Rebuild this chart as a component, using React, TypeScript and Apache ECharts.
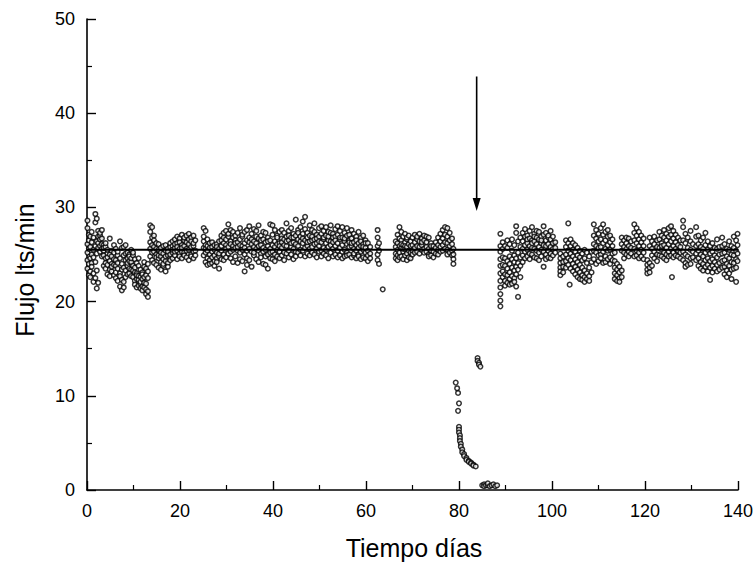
import React, { useEffect, useRef } from "react";
import * as echarts from "echarts";

// Flow (lts/min) readings grouped by day: [day, flows[]]
const startPeriod: [number, number[]][] = [
  [0.1, [25.2, 27.8, 23.5, 26.1, 24.4, 28.6]],
  [0.4, [24.0, 26.5, 22.8, 25.6, 27.1]],
  [0.7, [25.8, 23.2, 24.6, 26.9, 22.6]],
  [1.0, [26.3, 24.1, 25.0, 27.4, 23.7]],
  [1.4, [25.5, 23.0, 26.8, 24.7, 22.1]],
  [1.8, [29.3, 28.4, 24.2, 22.5, 25.9]],
  [2.1, [28.8, 21.4, 23.3, 26.4, 25.1]],
  [2.4, [27.5, 26.2, 25.7, 22.0, 26.9]],
  [2.8, [27.0, 25.9, 26.6, 25.3, 27.3]],
  [3.2, [26.1, 27.6, 25.6, 24.8, 26.7]],
  [3.6, [25.4, 26.0, 24.9, 23.8, 25.7]],
  [4.0, [24.6, 25.8, 23.5, 26.2, 24.1]],
  [4.4, [25.1, 23.9, 24.7, 22.9, 25.5]],
  [4.9, [26.7, 24.3, 23.4, 25.0, 22.7]],
  [5.3, [24.8, 23.2, 25.4, 24.0, 23.7]],
  [5.8, [23.9, 25.2, 22.8, 24.5, 26.0]],
  [6.2, [24.4, 23.1, 25.6, 22.5, 23.8]],
  [6.6, [23.5, 24.9, 22.2, 25.3, 24.1]],
  [7.1, [26.4, 23.0, 21.6, 24.6, 22.7]],
  [7.5, [25.7, 22.3, 21.2, 24.0, 23.4]],
  [7.9, [24.9, 23.6, 22.1, 25.8, 21.5]],
  [8.3, [26.0, 23.3, 22.6, 24.4, 25.1]],
  [8.7, [24.6, 23.8, 25.2, 22.9, 24.1]],
  [9.1, [25.0, 23.5, 24.3, 23.0, 24.8]],
  [9.5, [24.2, 25.5, 23.4, 22.7, 24.6]],
  [9.9, [23.8, 24.9, 22.6, 23.3, 25.2]],
  [10.3, [24.5, 22.2, 23.6, 21.8, 23.1]],
  [10.7, [23.0, 22.4, 24.1, 21.5, 22.8]],
  [11.1, [22.7, 23.8, 21.7, 22.3, 24.6]],
  [11.5, [21.9, 22.6, 23.4, 21.4, 22.1]],
  [11.9, [22.4, 21.6, 23.1, 22.9, 21.2]],
  [12.3, [23.7, 22.0, 21.5, 24.2, 22.6]],
  [12.7, [22.8, 21.3, 20.8, 23.5, 21.9]],
  [13.1, [24.0, 22.5, 21.1, 20.5, 23.2]],
];

const earlyPeriod: [number, number[]][] = [
  [13.6, [28.1, 27.4, 26.3, 25.6, 24.8]],
  [14.0, [27.9, 26.8, 25.2, 24.4, 26.0]],
  [14.4, [27.0, 25.8, 24.1, 25.3, 26.5]],
  [14.9, [26.2, 25.0, 24.7, 23.9, 25.6]],
  [15.4, [25.5, 24.6, 26.1, 23.6, 24.9]],
  [15.9, [24.8, 25.7, 24.2, 23.4, 25.2]],
  [16.4, [25.9, 24.5, 23.8, 25.1, 24.0]],
  [16.9, [24.3, 25.4, 23.2, 24.8, 26.0]],
  [17.4, [25.6, 24.1, 24.9, 23.7, 25.3]],
  [17.9, [24.7, 25.8, 24.4, 26.2, 25.0]],
  [18.4, [26.4, 25.2, 24.6, 25.9, 25.5]],
  [18.9, [25.7, 26.6, 24.9, 25.3, 26.1]],
  [19.4, [26.9, 25.4, 24.5, 26.2, 25.8]],
  [19.9, [25.1, 26.7, 25.6, 24.8, 26.3]],
  [20.4, [27.1, 26.0, 25.3, 24.6, 25.7]],
  [20.9, [26.5, 25.2, 26.8, 25.9, 24.9]],
  [21.4, [25.6, 26.3, 27.0, 24.7, 25.4]],
  [21.9, [27.2, 26.1, 25.5, 24.4, 26.6]],
  [22.4, [26.8, 25.8, 25.0, 26.4, 24.8]],
  [22.9, [25.9, 27.0, 26.2, 25.3, 24.6]],
  [23.3, [26.5, 25.4, 24.9]],
];

const midPeriod: [number, number[]][] = [
  [25.1, [27.8, 26.4, 25.7, 24.9, 26.9]],
  [25.5, [27.5, 26.0, 25.2, 24.2, 25.6]],
  [25.9, [26.6, 25.4, 24.6, 23.9, 25.9]],
  [26.4, [26.2, 25.0, 24.4, 25.7, 24.0]],
  [26.9, [25.8, 24.7, 25.3, 24.1, 26.3]],
  [27.4, [25.5, 24.3, 26.0, 23.8, 24.9]],
  [27.9, [26.1, 25.2, 24.6, 25.8, 24.2]],
  [28.4, [25.6, 24.8, 26.4, 23.5, 25.1]],
  [28.9, [26.5, 25.4, 27.0, 24.5, 25.9]],
  [29.4, [27.3, 26.2, 25.0, 24.4, 26.8]],
  [29.9, [26.0, 27.5, 25.6, 24.7, 26.6]],
  [30.4, [28.2, 26.9, 25.8, 25.1, 27.2]],
  [30.9, [27.6, 26.4, 25.3, 24.6, 26.1]],
  [31.4, [26.8, 27.4, 25.9, 24.2, 25.5]],
  [31.9, [27.0, 25.7, 26.5, 24.8, 26.2]],
  [32.4, [26.3, 27.3, 25.4, 24.1, 25.8]],
  [32.9, [27.8, 26.6, 25.2, 24.5, 26.0]],
  [33.4, [26.9, 25.9, 27.1, 24.3, 25.5]],
  [33.9, [27.4, 26.2, 25.0, 23.2, 25.7]],
  [34.4, [26.5, 27.6, 25.4, 24.6, 23.9]],
  [34.9, [28.0, 26.8, 25.6, 24.4, 26.3]],
  [35.4, [27.2, 26.1, 25.3, 23.7, 26.6]],
  [35.9, [27.7, 26.4, 25.8, 24.9, 25.2]],
  [36.4, [26.9, 27.5, 25.6, 24.5, 26.2]],
  [36.9, [28.1, 26.7, 25.4, 24.2, 25.9]],
  [37.4, [27.0, 26.0, 25.1, 24.7, 26.5]],
  [37.9, [26.6, 27.4, 25.7, 24.0, 25.3]],
  [38.4, [27.3, 26.3, 25.5, 23.9, 24.8]],
  [38.9, [26.8, 25.9, 25.0, 23.5, 26.4]],
  [39.4, [28.2, 26.5, 25.6, 24.6, 25.2]],
  [39.9, [28.1, 27.1, 26.0, 25.3, 24.5]],
  [40.4, [27.6, 26.4, 25.8, 25.0, 24.3]],
  [40.9, [27.0, 26.8, 25.5, 24.8, 26.1]],
  [41.4, [27.4, 26.2, 25.3, 24.6, 25.9]],
  [41.9, [26.7, 27.6, 25.7, 24.9, 26.3]],
  [42.4, [27.3, 26.0, 25.2, 24.4, 26.6]],
  [42.9, [28.3, 26.9, 25.9, 25.1, 26.4]],
  [43.4, [27.5, 26.5, 25.4, 24.7, 27.0]],
  [43.9, [26.8, 27.8, 25.8, 25.0, 26.2]],
  [44.4, [27.2, 26.3, 25.6, 24.5, 26.8]],
  [44.9, [28.7, 27.0, 26.1, 25.3, 24.8]],
  [45.4, [27.6, 26.6, 25.9, 25.2, 27.3]],
  [45.9, [27.9, 26.4, 25.5, 24.9, 26.9]],
  [46.4, [28.5, 27.2, 26.2, 25.4, 26.7]],
  [46.9, [29.0, 27.7, 26.5, 25.7, 24.8]],
  [47.4, [27.3, 26.8, 25.9, 25.1, 26.3]],
  [47.9, [28.1, 27.0, 26.4, 25.6, 24.9]],
  [48.4, [27.6, 26.5, 25.8, 25.2, 26.9]],
  [48.9, [28.3, 27.4, 26.1, 25.0, 26.6]],
  [49.4, [27.1, 26.7, 25.6, 24.7, 26.2]],
  [49.9, [27.8, 26.9, 25.9, 25.3, 26.4]],
  [50.4, [28.0, 27.2, 26.3, 25.4, 24.8]],
  [50.9, [27.5, 26.6, 25.7, 25.1, 26.8]],
  [51.4, [27.9, 27.0, 26.2, 25.5, 24.9]],
  [51.9, [27.4, 26.5, 25.8, 24.6, 26.9]],
  [52.4, [28.1, 27.3, 26.4, 25.2, 26.0]],
  [52.9, [27.2, 26.8, 25.6, 24.8, 26.3]],
  [53.4, [27.7, 26.9, 25.9, 25.0, 26.5]],
  [53.9, [28.0, 27.1, 26.2, 25.4, 24.7]],
  [54.4, [27.5, 26.6, 25.7, 24.9, 26.8]],
  [54.9, [27.9, 26.8, 26.0, 25.3, 24.6]],
  [55.4, [27.3, 26.4, 25.5, 24.8, 26.7]],
  [55.9, [27.8, 27.0, 26.1, 25.2, 24.9]],
  [56.4, [27.1, 26.5, 25.8, 25.0, 26.3]],
  [56.9, [27.6, 26.7, 25.9, 24.7, 26.2]],
  [57.4, [27.2, 26.3, 25.6, 24.9, 25.1]],
  [57.9, [26.9, 26.0, 25.4, 24.6, 26.5]],
  [58.4, [27.4, 26.2, 25.7, 25.0, 24.8]],
  [58.9, [26.8, 25.9, 25.3, 24.5, 26.4]],
  [59.4, [27.0, 26.1, 25.5, 24.7, 25.8]],
  [59.9, [26.5, 25.7, 25.2, 24.6, 26.2]],
  [60.4, [26.2, 25.4, 24.9, 24.3]],
  [60.9, [25.8, 25.1, 24.6]],
  [62.5, [27.6, 26.8, 25.9, 25.0, 24.4]],
  [62.8, [26.2, 25.4, 24.0]],
  [63.6, [21.3]],
];

const latePeriod: [number, number[]][] = [
  [66.4, [26.4, 25.8, 25.1, 24.6]],
  [66.8, [27.1, 26.2, 25.5, 24.9, 24.4]],
  [67.2, [27.9, 26.7, 25.9, 25.2, 24.7]],
  [67.6, [27.4, 26.5, 25.7, 24.8, 26.1]],
  [68.0, [26.9, 26.0, 25.3, 24.5, 25.6]],
  [68.4, [27.2, 26.3, 25.6, 24.9, 25.9]],
  [68.8, [26.6, 25.8, 25.1, 24.4, 26.8]],
  [69.2, [27.0, 26.1, 25.4, 24.7]],
  [69.6, [26.4, 25.9, 25.2, 24.6]],
  [70.0, [26.8, 26.0, 25.4, 25.0]],
  [70.5, [27.1, 26.3, 25.7, 25.2]],
  [71.0, [26.6, 25.9, 25.3, 26.9]],
  [71.5, [27.2, 26.4, 25.8, 25.1]],
  [72.0, [26.7, 26.0, 25.5, 26.3]],
  [72.5, [27.0, 26.5, 25.6, 25.2]],
  [73.0, [26.3, 25.8, 25.3, 26.9]],
  [73.5, [26.8, 25.6, 25.0, 24.8]],
  [74.0, [26.2, 25.4, 24.9, 25.9]],
  [74.5, [25.9, 25.3, 24.7]],
  [75.0, [26.3, 25.7, 25.1]],
  [75.5, [26.8, 26.0, 25.5, 25.0]],
  [76.0, [27.2, 26.4, 25.8, 25.3]],
  [76.5, [27.6, 26.7, 26.0, 25.4]],
  [77.0, [27.9, 27.1, 26.3, 25.6]],
  [77.5, [27.8, 26.9, 26.2, 25.5, 25.0]],
  [78.0, [27.3, 26.5, 25.9, 25.2]],
  [78.5, [26.7, 26.1, 25.4, 24.9]],
  [78.8, [25.6, 25.0, 24.5, 24.0]],
];

// Interruption of flow around day 80-89
const interruption: [number, number[]][] = [
  [79.3, [11.4]],
  [79.6, [10.8]],
  [79.8, [10.3, 8.4]],
  [80.0, [9.2, 6.7, 6.4, 6.1]],
  [80.2, [5.8, 5.5, 5.2]],
  [80.4, [4.9, 4.6]],
  [80.7, [4.3, 4.0]],
  [81.1, [3.8, 3.6]],
  [81.6, [3.4, 3.2]],
  [82.1, [3.1, 3.0]],
  [82.6, [2.9, 2.8]],
  [83.1, [2.7, 2.6]],
  [83.6, [2.5]],
  [84.0, [14.0, 13.7]],
  [84.3, [13.5, 13.3]],
  [84.6, [13.1]],
  [85.0, [0.5]],
  [85.4, [0.6, 0.4]],
  [85.8, [0.5]],
  [86.2, [0.5, 0.7]],
  [86.6, [0.4]],
  [87.0, [0.5]],
  [87.4, [0.6]],
  [87.8, [0.4]],
  [88.2, [0.5]],
];

const finalPeriod: [number, number[]][] = [
  [88.9, [27.2, 25.9, 25.3, 24.5, 23.8, 23.0, 22.2, 21.5, 20.8, 20.1, 19.5]],
  [89.4, [26.3, 25.6, 24.7, 23.9, 23.2, 22.6]],
  [89.9, [25.9, 24.6, 23.8, 22.9, 22.2, 21.7]],
  [90.4, [26.5, 25.7, 24.3, 23.5, 22.8, 22.0]],
  [90.9, [26.1, 24.8, 24.0, 23.1, 22.4, 21.8]],
  [91.4, [26.6, 25.4, 24.5, 23.6, 22.7, 21.9]],
  [91.9, [26.0, 24.9, 24.2, 23.3, 22.5, 22.1]],
  [92.3, [28.0, 27.3, 24.6, 23.7, 22.9, 21.6]],
  [92.7, [26.4, 25.2, 24.1, 23.4, 20.5]],
  [93.2, [26.8, 25.8, 24.7, 23.8, 22.6]],
  [93.7, [27.3, 26.4, 25.6, 24.9, 24.2]],
  [94.2, [27.7, 26.9, 26.0, 25.3, 24.6]],
  [94.7, [27.0, 26.2, 25.5, 24.8, 26.6]],
  [95.2, [27.5, 26.7, 25.9, 25.1, 24.5]],
  [95.7, [27.9, 26.5, 25.7, 25.0, 26.2]],
  [96.2, [27.2, 26.4, 25.6, 24.7, 26.9]],
  [96.7, [26.8, 26.1, 25.4, 24.6, 27.5]],
  [97.2, [27.4, 26.6, 25.8, 25.2, 24.4]],
  [97.7, [26.9, 26.2, 25.5, 24.8, 26.5]],
  [98.2, [28.0, 27.1, 26.0, 25.3, 23.7]],
  [98.7, [27.3, 26.5, 25.9, 25.0, 24.5]],
  [99.2, [26.8, 26.1, 25.4, 24.7, 27.0]],
  [99.7, [27.5, 26.6, 25.8, 25.1, 24.6]],
  [100.2, [26.9, 26.2, 25.6, 24.9]],
  [100.7, [26.3, 25.7, 25.2]],
  [101.8, [25.1, 24.6, 24.1, 23.6, 23.2, 22.8]],
  [102.4, [24.8, 24.2, 23.7, 23.1]],
  [103.0, [26.5, 25.8, 25.0, 24.3, 23.6]],
  [103.5, [28.3, 26.2, 25.4, 24.6, 23.9]],
  [103.8, [21.8]],
  [104.0, [26.6, 25.9, 25.1, 24.4, 23.5]],
  [104.5, [26.2, 25.5, 24.8, 24.0, 23.2]],
  [105.0, [26.0, 25.3, 24.5, 23.7, 22.9]],
  [105.5, [25.7, 24.9, 24.2, 23.4, 22.6]],
  [106.0, [25.4, 24.7, 23.9, 23.1, 22.4]],
  [106.5, [25.1, 24.4, 23.6, 22.8, 22.3]],
  [107.0, [25.5, 24.6, 23.3, 22.6, 22.1]],
  [107.5, [25.2, 24.1, 23.0, 22.4]],
  [108.0, [24.8, 23.6, 22.7, 22.2]],
  [108.5, [25.3, 24.2, 23.1]],
  [109.0, [28.2, 27.0, 26.1, 25.4, 24.5]],
  [109.5, [27.6, 26.7, 25.9, 25.2, 24.0]],
  [110.0, [27.2, 26.4, 25.7, 24.9, 24.3]],
  [110.5, [27.8, 26.6, 25.8, 25.0, 24.6]],
  [111.0, [28.2, 27.1, 26.2, 25.3, 24.1]],
  [111.5, [27.4, 26.5, 25.6, 24.8, 24.2]],
  [112.0, [26.9, 26.0, 25.4, 24.5, 27.6]],
  [112.5, [27.0, 26.3, 25.5, 24.7, 24.0]],
  [113.0, [26.6, 25.9, 25.1, 24.4]],
  [113.5, [25.2, 24.3, 23.6, 23.0, 22.4]],
  [114.0, [24.0, 23.4, 22.8, 22.2]],
  [114.5, [23.7, 23.1, 22.5, 22.1]],
  [115.0, [26.8, 26.1, 25.4, 23.3, 22.6]],
  [115.5, [26.5, 25.8, 25.2, 24.6]],
  [116.0, [26.2, 25.6, 25.0, 26.8]],
  [116.5, [26.7, 25.9, 25.3, 24.8]],
  [117.0, [26.4, 25.7, 25.1]],
  [117.7, [28.2, 27.3, 26.5, 25.6, 24.8]],
  [118.2, [27.8, 27.0, 26.2, 25.4, 24.9]],
  [118.7, [27.4, 26.6, 25.9, 25.2, 24.6]],
  [119.2, [27.0, 26.3, 25.5, 24.8]],
  [119.7, [26.7, 25.9, 25.2, 24.5]],
  [120.5, [24.4, 23.9, 23.4, 23.0]],
  [121.0, [26.8, 25.9, 24.1, 23.6, 23.1]],
  [121.5, [26.4, 25.6, 24.9, 23.8]],
  [122.0, [26.9, 26.1, 25.3, 24.6]],
  [122.6, [26.5, 25.8, 25.0, 24.3]],
  [123.1, [27.4, 26.6, 25.7, 24.9]],
  [123.6, [27.0, 26.2, 25.5, 24.8, 25.9]],
  [124.1, [27.6, 26.8, 26.0, 25.2, 24.6]],
  [124.6, [27.2, 26.5, 25.7, 25.0, 24.4]],
  [125.1, [27.8, 26.9, 26.1, 25.3, 24.8]],
  [125.6, [28.0, 27.1, 26.4, 25.6, 24.9]],
  [125.8, [22.6]],
  [126.1, [27.5, 26.7, 25.9, 25.2, 24.7]],
  [126.6, [27.1, 26.3, 25.6, 24.9]],
  [127.1, [26.8, 26.0, 25.4, 24.8]],
  [127.6, [26.5, 25.8, 25.2, 24.6]],
  [128.2, [28.6, 27.9, 26.5, 25.3, 24.4]],
  [128.7, [27.2, 26.2, 25.0, 24.1, 23.7]],
  [129.2, [26.8, 25.7, 24.8, 23.9]],
  [129.8, [27.5, 26.4, 25.5, 24.6, 24.0]],
  [130.3, [26.1, 25.3, 24.7]],
  [131.0, [27.9, 26.9, 25.9, 25.1, 24.4]],
  [131.5, [27.0, 26.1, 25.4, 24.6, 23.8]],
  [132.0, [26.5, 25.8, 25.0, 24.2, 23.5]],
  [132.5, [26.8, 25.6, 24.8, 24.0, 23.3]],
  [133.0, [27.3, 26.0, 25.2, 24.4, 23.7]],
  [133.5, [26.4, 25.5, 24.6, 23.9, 23.2]],
  [134.0, [25.9, 25.1, 24.3, 23.6, 22.3]],
  [134.5, [26.2, 25.3, 24.5, 23.8, 23.1]],
  [135.0, [25.7, 24.9, 24.2, 23.5]],
  [135.5, [26.6, 25.6, 24.7, 23.9, 23.2]],
  [136.0, [25.8, 25.0, 24.1, 23.4]],
  [136.6, [26.8, 25.9, 25.1, 24.3, 23.6]],
  [137.1, [26.1, 25.2, 24.4, 23.7, 22.9]],
  [137.6, [25.6, 24.8, 24.0, 23.3, 22.6]],
  [138.1, [26.4, 25.5, 24.6, 23.8, 23.0]],
  [138.6, [25.9, 25.0, 24.2, 23.4, 22.4]],
  [139.1, [26.9, 25.7, 24.9, 24.1, 23.5]],
  [139.6, [26.5, 25.4, 24.5, 23.6, 22.1]],
  [139.9, [27.2, 26.0, 25.1, 24.3]],
];

const meanFlow = 25.5;
const arrowDay = 83.8;
const arrowFrom = 43.9;
const arrowTo = 30.3;

const xTicks = [0, 20, 40, 60, 80, 100, 120, 140];
const yTicks = [0, 10, 20, 30, 40, 50];

const xTitle = "Tiempo días";
const yTitle = "Flujo lts/min";

function flatten(groups: [number, number[]][]): number[][] {
  const out: number[][] = [];
  groups.forEach(([d, vals]) => vals.forEach((v) => out.push([d, v])));
  return out;
}

export default function App() {
  const ref = useRef<HTMLDivElement>(null);
  useEffect(() => {
    if (!ref.current) return;
    const chart = echarts.init(ref.current, null, { renderer: "svg" });
    const points = [
      ...flatten(startPeriod),
      ...flatten(earlyPeriod),
      ...flatten(midPeriod),
      ...flatten(latePeriod),
      ...flatten(interruption),
      ...flatten(finalPeriod),
    ];
    const font = "'Liberation Sans', Arial, sans-serif";
    chart.setOption({
      animation: false,
      backgroundColor: "#ffffff",
      grid: { left: 87, right: 16, top: 19, bottom: 72, containLabel: false },
      xAxis: {
        type: "value",
        min: xTicks[0],
        max: xTicks[xTicks.length - 1],
        interval: 20,
        axisLine: { show: true, onZero: false, lineStyle: { color: "#000", width: 1.6 } },
        axisTick: { show: true, inside: true, length: 9, lineStyle: { color: "#000", width: 1.4 } },
        minorTick: { show: true, splitNumber: 2, length: 5, lineStyle: { color: "#000", width: 1.2 } },
        splitLine: { show: false },
        axisLabel: { color: "#000", fontSize: 18, fontFamily: font, margin: 12 },
      },
      yAxis: {
        type: "value",
        min: yTicks[0],
        max: yTicks[yTicks.length - 1],
        interval: 10,
        axisLine: { show: true, onZero: false, lineStyle: { color: "#000", width: 1.6 } },
        axisTick: { show: true, inside: true, length: 9, lineStyle: { color: "#000", width: 1.4 } },
        minorTick: { show: true, splitNumber: 2, length: 5, lineStyle: { color: "#000", width: 1.2 } },
        splitLine: { show: false },
        axisLabel: { color: "#000", fontSize: 18, fontFamily: font, margin: 12 },
      },
      graphic: [
        {
          type: "text",
          x: 414,
          y: 548,
          style: {
            text: xTitle,
            fontSize: 25,
            fontFamily: font,
            fill: "#000",
            align: "center",
            verticalAlign: "middle",
          },
        },
        {
          type: "text",
          x: 25,
          y: 270,
          rotation: Math.PI / 2,
          style: {
            text: yTitle,
            fontSize: 25,
            fontFamily: font,
            fill: "#000",
            align: "center",
            verticalAlign: "middle",
          },
        },
      ],
      series: [
        {
          type: "scatter",
          data: points,
          symbol: "circle",
          symbolSize: 4.6,
          itemStyle: { color: "#fff", borderColor: "#000", borderWidth: 1.5 },
          z: 3,
        },
        {
          type: "line",
          data: [
            [xTicks[0], meanFlow],
            [xTicks[xTicks.length - 1], meanFlow],
          ],
          symbol: "none",
          lineStyle: { color: "#000", width: 2 },
          z: 4,
        },
        {
          type: "line",
          data: [
            { value: [arrowDay, arrowFrom], symbol: "none" },
            { value: [arrowDay, arrowTo], symbol: "triangle", symbolSize: [8, 13], symbolRotate: 180 },
          ],
          lineStyle: { color: "#000", width: 1.6 },
          itemStyle: { color: "#000" },
          z: 5,
        },
      ],
    });
    return () => chart.dispose();
  }, []);
  return (
    <div
      ref={ref}
      style={{ position: "absolute", left: 0, top: 0, width: 756, height: 562 }}
    />
  );
}
